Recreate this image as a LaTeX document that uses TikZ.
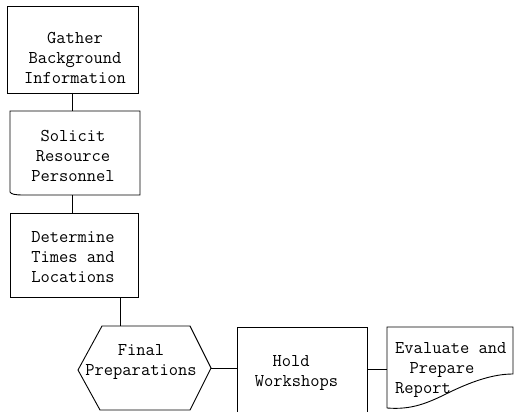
\documentclass[tikz,border=0pt]{standalone}
\usepackage{fontspec}
\usetikzlibrary{calc}
\begin{document}
\begin{tikzpicture}[x=1pt,y=-1pt,
  frame/.style={inner sep=0pt, outer sep=0pt},
  outline/.style={line width=0.9pt, line join=miter},
  link/.style={line width=0.9pt},
  boxtext/.style={font=\ttfamily\fontsize{18}{20}\selectfont, align=center, inner sep=0pt},
]
\useasboundingbox (0,0) rectangle (517,412);

% --- planning steps, top to bottom ---
\node[frame, draw, outline, minimum width=131pt, minimum height=87pt] (gather) at (72.5,49.5) {};
\node[boxtext] (gathertext) at (75,57.5) {Gather\\Background\\Information};

\node[frame, minimum width=130pt, minimum height=84pt] (solicit) at (75,153) {};
\draw[outline] (solicit.north west) -- (solicit.north east) -- (solicit.south east)
  -- ($(solicit.south west)+(14,0)$)
  .. controls ($(solicit.south west)+(4,0)$) and ($(solicit.south west)+(1,-1)$) .. ($(solicit.south west)+(0,-3)$)
  -- cycle;
\node[boxtext] (solicittext) at (73,155.5) {Solicit\\Resource\\Personnel};

\node[frame, draw, outline, minimum width=128pt, minimum height=84pt] (determine) at (74,255) {};
\node[boxtext] (determinetext) at (73,257.5) {Determine\\Times and\\Locations};

% --- preparation (hexagon) ---
\node[frame, minimum width=133pt, minimum height=84pt] (prep) at (144.5,368) {};
\draw[outline] ($(prep.north west)+(24,0)$) -- ($(prep.north east)+(-21,0)$) -- (prep.east)
  -- ($(prep.south east)+(-21,0)$) -- ($(prep.south west)+(22,0)$) -- ($(prep.west)+(0,2)$) -- cycle;
\node[boxtext] (preptext) at (141,361.5) {Final\\Preparations};
\coordinate (prepjoin) at ($(prep.north)+(-24.5,0)$);

% --- workshops (box runs off the lower edge) ---
\node[frame, minimum width=130pt, minimum height=85pt] (hold) at (302,369.5) {};
\draw[outline] (hold.south west) -- (hold.north west) -- (hold.north east) -- (hold.south east);
\node[boxtext] (holdtext) at (296.5,372.5) {Hold\hspace*{0.6em}\\Workshops};

% --- report (document symbol) ---
\node[frame, minimum width=126pt, minimum height=81pt] (report) at (450,367.5) {};
\draw[outline] (report.south west) -- (report.north west) -- (report.north east)
  -- ($(report.south east)+(0,-34)$)
  .. controls ($(report.south east)+(-18,-34)$) and ($(report.south east)+(-38,-28)$) .. ($(report.south east)+(-63,-16)$)
  .. controls ($(report.south east)+(-85,-5)$) and ($(report.south east)+(-101,2)$) .. (report.south west);
\node[boxtext, align=left, anchor=north west] (reporttext) at (395,342) {Evaluate and\\\hspace*{0.8em}Prepare\\Report};

% --- connectors ---
\draw[link] (gather.south) -- (gather.south |- solicit.north);
\draw[link] (solicit.south -| gather.south) -- (determine.north -| gather.south);
\draw[link] (prepjoin) -- (prepjoin |- determine.south);
\draw[link] (prep.east) -- (prep.east -| hold.west);
\draw[link] (hold.east) -- (hold.east -| report.west);
\end{tikzpicture}
\end{document}
